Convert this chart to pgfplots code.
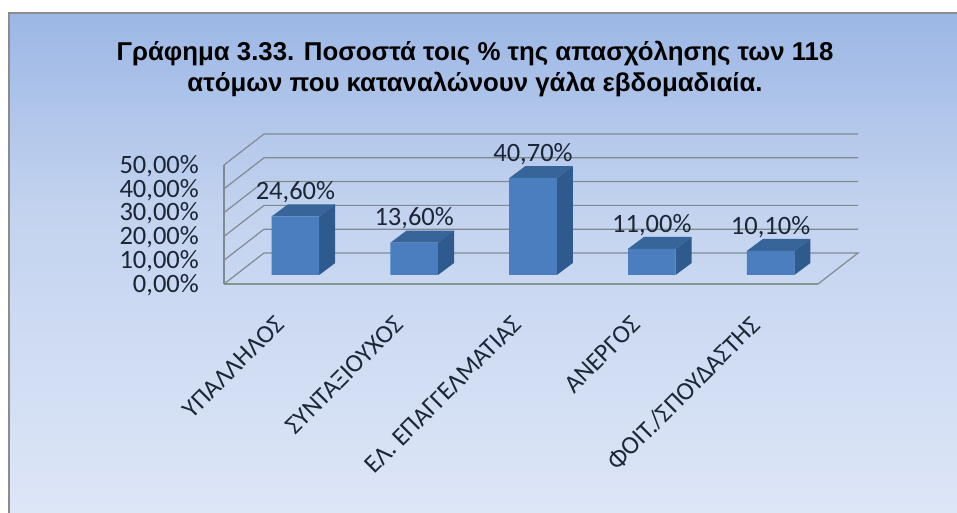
\documentclass[border=0pt]{standalone}
\usepackage{pgfplots}
\usepackage{fontspec}
\pgfplotsset{compat=1.18}
\setmainfont{Carlito}
\newfontfamily\titlefont{Liberation Sans}
\definecolor{inktext}{HTML}{1B2636}
\definecolor{gridgray}{HTML}{7F8B92}
\definecolor{floorgray}{HTML}{86968F}
\definecolor{framegray}{HTML}{8C8C8C}
\definecolor{bgtop}{HTML}{9CB7E5}
\definecolor{bgmid}{HTML}{C3D3EF}
\definecolor{bgbot}{HTML}{DDE6F7}
\definecolor{barfront}{HTML}{4A7EBF}
\definecolor{barside}{HTML}{2F5A8E}
\definecolor{bartop}{HTML}{376599}
\begin{document}
\begin{tikzpicture}
% page, panel background and its frame
\path[use as bounding box,fill=white] (-224pt,284pt) rectangle (733pt,-229pt);
\shade[top color=bgtop,bottom color=bgmid] (-215pt,271pt) rectangle (733pt,74pt);
\shade[top color=bgmid,bottom color=bgbot] (-215pt,74.5pt) rectangle (733pt,-229pt);
\draw[framegray,line width=2pt] (-215pt,-229pt) -- (-215pt,271pt) -- (733pt,271pt);
\node[font=\titlefont\bfseries\fontsize{25.8}{31}\selectfont,align=center,text=black,anchor=center]
  at (251pt,214.5pt) {Γράφημα 3.33. Ποσοστά τοις \% της απασχόλησης των 118\\ατόμων που καταναλώνουν γάλα εβδομαδιαία.};

% walls, gridlines and value axis
\begin{axis}[
  at={(0pt,0pt)},anchor=south west,
  scale only axis,width=594pt,height=119pt,
  xmin=-0.5,xmax=4.5,ymin=0,ymax=50,clip=false,
  axis x line*=bottom,axis y line*=left,
  x axis line style={-,floorgray,line width=1.6pt},
  y axis line style={-,gridgray,line width=1.2pt},
  xtick={0,1,2,3,4},
  xticklabels={ΥΠΑΛΛΗΛΟΣ,ΣΥΝΤΑΞΙΟΥΧΟΣ,ΕΛ. ΕΠΑΓΓΕΛΜΑΤΙΑΣ,ΑΝΕΡΓΟΣ,ΦΟΙΤ./ΣΠΟΥΔΑΣΤΗΣ},
  xticklabel style={xshift=-9.6pt,yshift=-30.5pt,rotate=45,anchor=north east,font=\fontsize{25.5}{28}\selectfont,text=inktext,inner sep=0pt},
  ytick={0,10,20,30,40,50},
  yticklabel style={font=\fontsize{26.5}{28}\selectfont,text=inktext,anchor=east,xshift=-25pt,yshift=-1pt,inner sep=0pt},
  yticklabel={\pgfmathprintnumber{\tick}\%},
  /pgf/number format/.cd,assume math mode=true,use comma,fixed,fixed zerofill,precision=2,
  /pgfplots/.cd,
  major tick length=0pt,
]
\addplot[gridgray,line width=1.2pt] coordinates {(-0.5,0) (-0.1633,13.03) (4.8367,13.03) (4.5,0)};
\addplot[gridgray,line width=1.2pt] coordinates {(-0.5,10) (-0.1633,23.03) (4.8367,23.03)};
\addplot[gridgray,line width=1.2pt] coordinates {(-0.5,20) (-0.1633,33.03) (4.8367,33.03)};
\addplot[gridgray,line width=1.2pt] coordinates {(-0.5,30) (-0.1633,43.03) (4.8367,43.03)};
\addplot[gridgray,line width=1.2pt] coordinates {(-0.5,40) (-0.1633,53.03) (4.8367,53.03)};
\addplot[gridgray,line width=1.2pt] coordinates {(-0.5,50) (-0.1633,63.03) (4.8367,63.03)};
\end{axis}

% bars, standing a little behind the front edge of the floor
\begin{axis}[
  at={(12pt,9pt)},anchor=south west,
  scale only axis,width=594pt,height=119pt,
  xmin=-0.5,xmax=4.5,ymin=0,ymax=50,clip=false,
  hide axis,
]
% top faces
\addplot[fill=bartop,draw=none] coordinates {(-0.2,24.6) (0.2,24.6) (0.335,29.64) (-0.065,29.64)};
\addplot[fill=bartop,draw=none] coordinates {(0.8,13.6) (1.2,13.6) (1.335,18.64) (0.935,18.64)};
\addplot[fill=bartop,draw=none] coordinates {(1.8,40.7) (2.2,40.7) (2.335,45.74) (1.935,45.74)};
\addplot[fill=bartop,draw=none] coordinates {(2.8,11) (3.2,11) (3.335,16.04) (2.935,16.04)};
\addplot[fill=bartop,draw=none] coordinates {(3.8,10.1) (4.2,10.1) (4.335,15.14) (3.935,15.14)};
% side faces
\addplot[fill=barside,draw=none] coordinates {(0.2,0) (0.335,5.04) (0.335,29.64) (0.2,24.6)};
\addplot[fill=barside,draw=none] coordinates {(1.2,0) (1.335,5.04) (1.335,18.64) (1.2,13.6)};
\addplot[fill=barside,draw=none] coordinates {(2.2,0) (2.335,5.04) (2.335,45.74) (2.2,40.7)};
\addplot[fill=barside,draw=none] coordinates {(3.2,0) (3.335,5.04) (3.335,16.04) (3.2,11)};
\addplot[fill=barside,draw=none] coordinates {(4.2,0) (4.335,5.04) (4.335,15.14) (4.2,10.1)};
% front faces with their value labels
\addplot[ybar,bar width=0.4,fill=barfront,draw=none,
  nodes near coords={\pgfmathprintnumber[assume math mode=true,use comma,fixed,fixed zerofill,precision=2]{\pgfplotspointmeta}\%},
  every node near coord/.append style={anchor=center,yshift=24pt,text=inktext,inner sep=0pt,font=\fontsize{26.5}{28}\selectfont},
] coordinates {(0,24.6) (1,13.6) (2,40.7) (3,11) (4,10.1)};
\end{axis}
\end{tikzpicture}
\end{document}
